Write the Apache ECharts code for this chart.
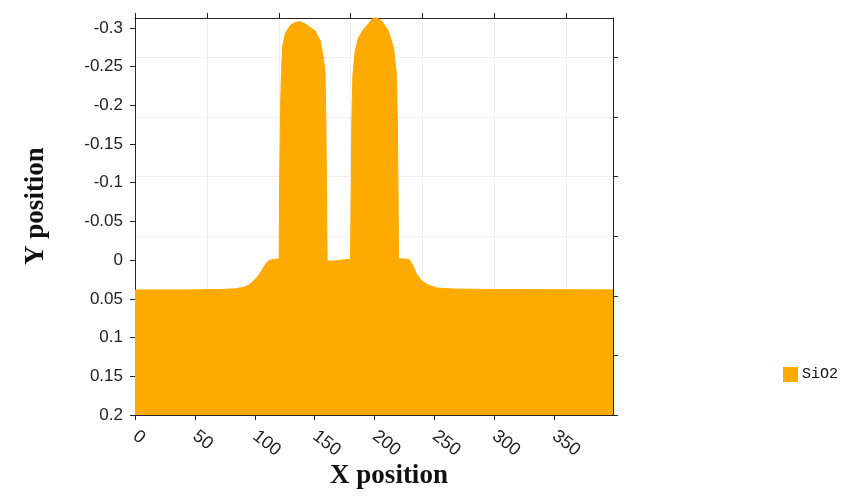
<!DOCTYPE html>
<html>
<head>
<meta charset="utf-8">
<script src="https://cdn.jsdelivr.net/npm/echarts@6/dist/echarts.min.js"></script>
<style>
html,body{margin:0;padding:0;background:#fff;}
#chart{width:854px;height:497px;}
</style>
</head>
<body>
<div id="chart"></div>
<script>
// Surface profile of the SiO2 region (x position, y position; y axis points downward)
var profileX = [0, 40, 70, 84, 91, 95, 99, 102, 104.5, 107, 109.5, 112, 116, 120.3,
  120.5, 120.7, 121.2, 121.7, 122.3, 123.2, 125.5, 129.5, 133.5, 137.8, 143.4, 150.4, 154.6, 157.3, 158.7, 159.3, 159.8, 160.2, 160.4,
  165, 170, 175, 179.9,
  180.2, 180.6, 181.0, 181.9, 183.8, 186.5, 190.7, 194.9, 198, 200.5, 203, 206.1, 211.6, 215.8, 218.0, 219.0, 219.5, 220.0,
  220.3, 225, 228.5, 230.5, 232, 234.6, 238.6, 243.7, 252, 265, 290, 340, 399];
var profileY = [0.0385, 0.0385, 0.038, 0.037, 0.035, 0.032, 0.027, 0.022, 0.0168, 0.0105, 0.004, 0.0005, -0.001, -0.0013,
  -0.05, -0.1, -0.15, -0.21, -0.245, -0.275, -0.293, -0.303, -0.307, -0.308, -0.304, -0.296, -0.283, -0.261, -0.24, -0.18, -0.1, -0.02, 0.0012,
  0.0012, 0.0005, -0.0005, -0.001,
  -0.05, -0.1, -0.18, -0.2396, -0.2697, -0.2871, -0.2978, -0.3052, -0.311, -0.3135, -0.312, -0.3085, -0.2956, -0.2741, -0.2439, -0.18, -0.1, -0.002,
  -0.001, -0.0013, -0.001, 0.003, 0.007, 0.0168, 0.0254, 0.0315, 0.036, 0.0372, 0.0378, 0.0382, 0.0384];
var seriesName = 'SiO2';
var xTickValues = [0, 50, 100, 150, 200, 250, 300, 350];
var yTickValues = [-0.3, -0.25, -0.2, -0.15, -0.1, -0.05, 0, 0.05, 0.1, 0.15, 0.2];
var yTickLabels = ['-0.3', '-0.25', '-0.2', '-0.15', '-0.1', '-0.05', '0', '0.05', '0.1', '0.15', '0.2'];
var topTickValues = [0, 60, 120, 180, 240, 300, 360];
var rightTickValues = [0, 1, 2, 3, 4, 5, 6];

var data = profileX.map(function (x, i) { return [x, profileY[i]]; });

var chart = echarts.init(document.getElementById('chart'), null, {renderer: 'canvas'});
var axisColor = '#222';
var labelFont = {fontFamily: 'Liberation Sans, Arial, sans-serif', fontSize: 17, color: '#222'};
chart.setOption({
  animation: false,
  backgroundColor: '#ffffff',
  grid: {left: 135, top: 18, right: 241, bottom: 82, containLabel: false},
  legend: {
    data: [seriesName], left: 783, top: 367, icon: 'rect', itemWidth: 15, itemHeight: 15, itemGap: 5, padding: 0,
    textStyle: {fontFamily: 'Liberation Mono, DejaVu Sans Mono, monospace', fontSize: 15, color: '#111', padding: [0, 0, 0, -1]}
  },
  xAxis: [{
    type: 'value', min: 0, max: 399, position: 'bottom',
    axisLine: {show: true, onZero: false, lineStyle: {color: axisColor, width: 1}},
    axisTick: {show: true, length: 5, inside: false, customValues: xTickValues, lineStyle: {color: axisColor}},
    axisLabel: Object.assign({rotate: -38, margin: 19, customValues: xTickValues}, labelFont, {fontSize: 18}),
    splitLine: {show: false}
  }, {
    type: 'value', min: 0, max: 399, position: 'top',
    axisLine: {show: true, onZero: false, lineStyle: {color: axisColor, width: 1}},
    axisTick: {show: true, length: 5, inside: false, customValues: topTickValues, lineStyle: {color: axisColor}},
    axisLabel: {show: false},
    splitLine: {show: true, lineStyle: {color: '#eeeeee', width: 1}}
  }],
  yAxis: [{
    type: 'value', inverse: true, min: -0.3127, max: 0.2, position: 'left',
    axisLine: {show: true, onZero: false, lineStyle: {color: axisColor, width: 1}},
    axisTick: {show: true, length: 5, inside: false, customValues: yTickValues, lineStyle: {color: axisColor}},
    axisLabel: Object.assign({margin: 12, customValues: yTickValues,
      formatter: function (v) { var i = yTickValues.findIndex(function (t) { return Math.abs(t - v) < 1e-9; }); return i >= 0 ? yTickLabels[i] : ''; }
    }, labelFont),
    splitLine: {show: false}
  }, {
    type: 'value', min: 0, max: 6.664, position: 'right',
    axisLine: {show: true, onZero: false, lineStyle: {color: axisColor, width: 1}},
    axisTick: {show: true, length: 5, inside: false, customValues: rightTickValues, lineStyle: {color: axisColor}},
    axisLabel: {show: false},
    splitLine: {show: true, lineStyle: {color: '#eeeeee', width: 1}}
  }],
  graphic: [{
    type: 'text', x: 389, y: 476,
    style: {text: 'X position', font: 'bold 27px "Liberation Serif", "DejaVu Serif", serif', fill: '#111', align: 'center', verticalAlign: 'middle'}
  }, {
    type: 'text', x: 36, y: 206, rotation: Math.PI / 2,
    style: {text: 'Y position', font: 'bold 27px "Liberation Serif", "DejaVu Serif", serif', fill: '#111', align: 'center', verticalAlign: 'middle'}
  }],
  series: [{
    name: seriesName, type: 'line', xAxisIndex: 0, yAxisIndex: 0,
    data: data, showSymbol: false, smooth: false,
    lineStyle: {color: '#ffaa00', width: 1},
    itemStyle: {color: '#ffaa00'},
    areaStyle: {color: '#ffaa00', opacity: 1, origin: 'end'},
    z: 1
  }]
});
</script>
</body>
</html>
